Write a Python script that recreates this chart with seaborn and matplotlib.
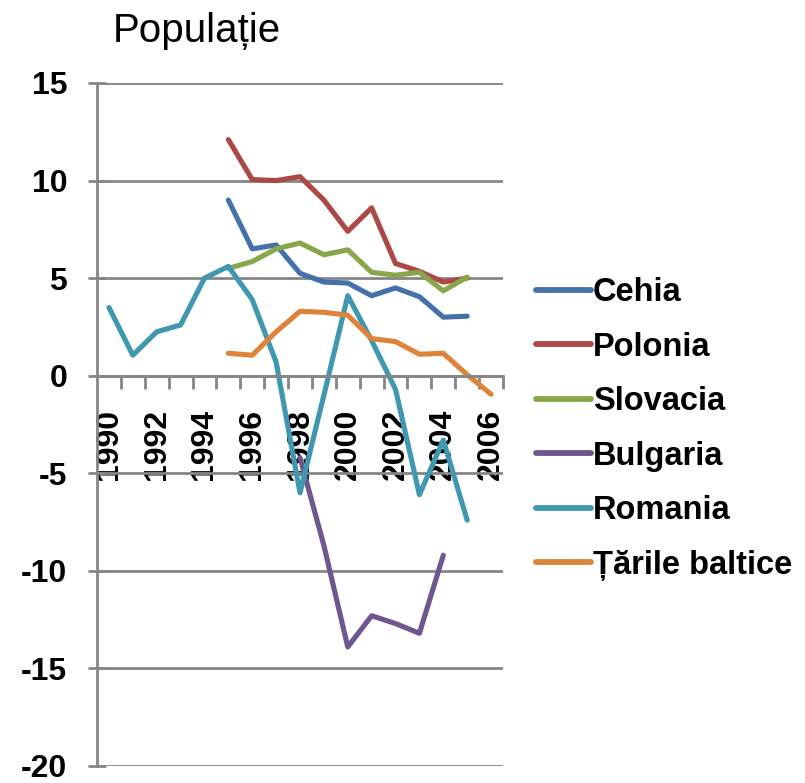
import numpy as np
import pandas as pd
import matplotlib.pyplot as plt
import seaborn as sns

nan = np.nan

# Date (categorii 1990-2006)
years = list(range(1990, 2007))
cehia = [nan, nan, nan, nan, nan, 9.0, 6.5, 6.7, 5.25, 4.8, 4.75, 4.1, 4.5, 4.05, 3.0, 3.05, nan]
polonia = [nan, nan, nan, nan, nan, 12.1, 10.05, 10.0, 10.2, 9.0, 7.4, 8.6, 5.75, 5.35, 4.8, 5.0, nan]
slovacia = [nan, nan, nan, nan, nan, 5.5, 5.85, 6.5, 6.8, 6.2, 6.45, 5.3, 5.15, 5.3, 4.35, 5.05, nan]
bulgaria = [nan, nan, nan, nan, nan, nan, nan, nan, -4.2, -8.7, -13.9, -12.3, -12.7, -13.2, -9.2, nan, nan]
romania = [3.5, 1.05, 2.25, 2.6, 5.0, 5.6, 3.9, 0.7, -6.0, -1.0, 4.1, 1.8, -0.7, -6.1, -3.3, -7.4, nan]
baltice = [nan, nan, nan, nan, nan, 1.15, 1.05, 2.25, 3.3, 3.25, 3.1, 1.9, 1.75, 1.1, 1.15, 0.05, -0.95]

names = ['Cehia', 'Polonia', 'Slovacia', 'Bulgaria', 'Romania', 'Țările baltice']
colors = ['#4571AA', '#AA4946', '#8AA64B', '#6F568F', '#4098B0', '#DE843A']
year_labels = [str(y) for y in range(1990, 2007, 2)]

series = [cehia, polonia, slovacia, bulgaria, romania, baltice]
frames = []
for name, vals in zip(names, series):
    frames.append(pd.DataFrame({'an': years, 'valoare': vals, 'tara': name}))
df = pd.concat(frames).dropna()

sns.set_style('white')
plt.rcParams['font.family'] = ['Liberation Sans', 'DejaVu Sans']
plt.rcParams['axes.unicode_minus'] = False
plt.rcParams['text.color'] = 'black'
plt.rcParams['xtick.labelcolor'] = 'black'
plt.rcParams['ytick.labelcolor'] = 'black'

fig = plt.figure(figsize=(8.05, 7.83), dpi=100)
ax = fig.add_axes([97 / 805, 1 - 766 / 783, (503 - 97) / 805, (766 - 83) / 783])

sns.lineplot(data=df, x='an', y='valoare', hue='tara', hue_order=names,
             palette=dict(zip(names, colors)), linewidth=3.7, ax=ax)

ax.set_xlim(1989.5, 2006.5)
ax.set_ylim(-20, 15)
ax.set_yticks(range(-20, 16, 5))
ax.set_xticks(range(1990, 2007, 2))
ax.set_xticklabels(year_labels)
ax.set_xticks(np.arange(1990.5, 2006.6, 1), minor=True)
ax.set_xlabel('')
ax.set_ylabel('')

grid_col = '#868686'
ax.yaxis.grid(True, color=grid_col, linewidth=2.0)
ax.set_axisbelow(True)
for s in ['top', 'right']:
    ax.spines[s].set_visible(False)
ax.spines['left'].set_color(grid_col)
ax.spines['left'].set_linewidth(2.0)
ax.spines['bottom'].set_position(('data', 0))
ax.spines['bottom'].set_color(grid_col)
ax.spines['bottom'].set_linewidth(2.0)

ax.tick_params(axis='x', which='major', bottom=True, length=0, pad=24,
               labelsize=23, labelrotation=90, labelcolor='black')
ax.tick_params(axis='x', which='minor', bottom=True, length=9, width=2,
               color=grid_col, direction='out')
ax.tick_params(axis='y', left=True, length=13, width=2, color=grid_col,
               direction='inout', pad=15, labelsize=23, labelcolor='black')
for t in ax.get_yticklabels() + ax.get_xticklabels():
    t.set_fontweight('bold')

sns.move_legend(ax, 'center left', bbox_to_anchor=(536 / 805, 1 - 429 / 783),
                bbox_transform=fig.transFigure, title=None, frameon=False,
                handlelength=1.69, handletextpad=0.05,
                labelspacing=0.72, borderpad=0, borderaxespad=0,
                prop={'weight': 'bold', 'size': 23.5}, labelcolor='black')
for line in ax.get_legend().get_lines():
    line.set_linewidth(4.2)

fig.text(113 / 805, 1 - 12 / 783, 'Populație', fontsize=29, ha='left', va='top',
         color='black')

fig.savefig('out.png', dpi=100)
